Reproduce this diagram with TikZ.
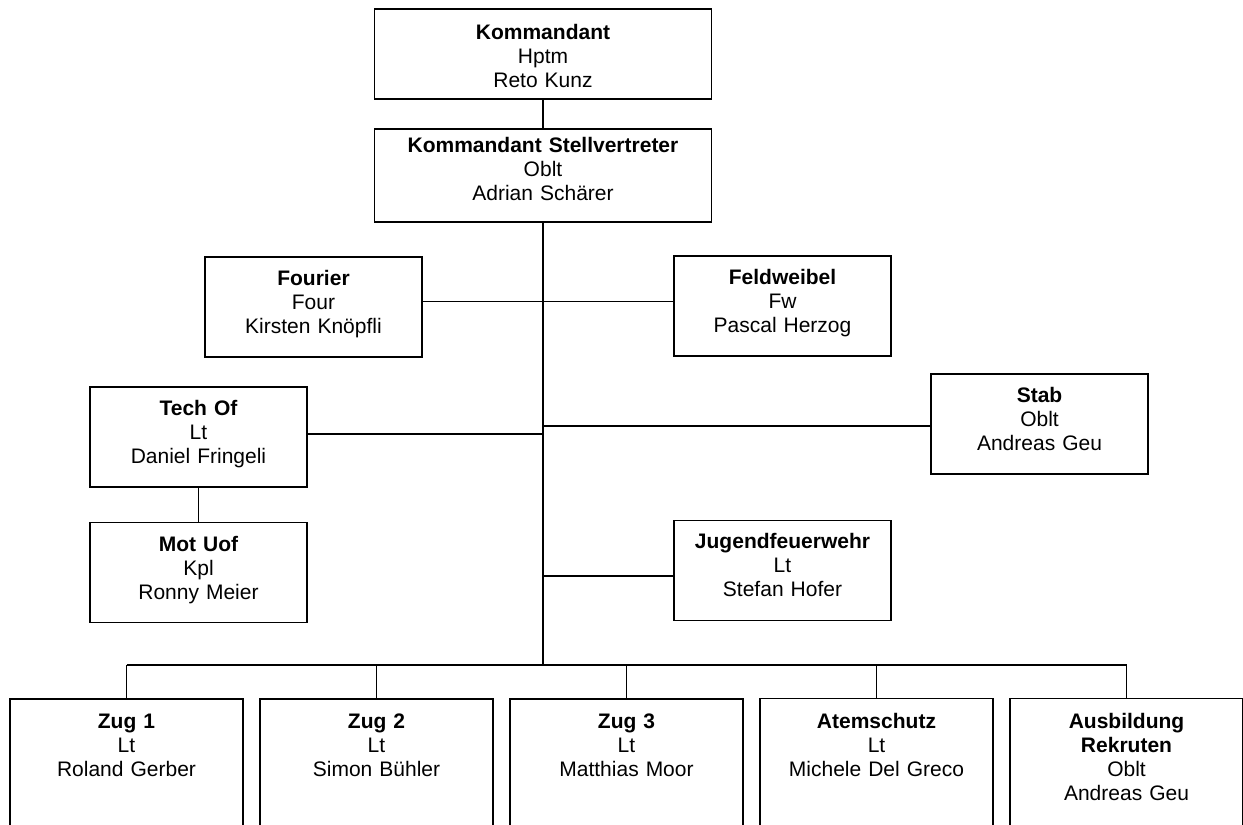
\documentclass[tikz,border=0pt]{standalone}
\usepackage{fontspec}
\setmainfont{Liberation Sans}
\usetikzlibrary{positioning}

\begin{document}
\begin{tikzpicture}[
  x=1pt, y=-1pt, line width=1.6pt,
  font=\fontsize{21}{24}\selectfont,
  base/.style={draw, align=center, inner sep=2pt},
  box/.style={base, text width=213pt, minimum height=100pt, text depth=58.3pt},
  wide/.style={base, text width=333pt},
  zug/.style={base, text width=229pt, inner ysep=15pt, text depth=150pt},
]
\useasboundingbox (0,0) rectangle (1243,825);
\clip (0,0) rectangle (1243,825);

% Leitung
\node[wide, minimum height=90pt, text depth=44.3pt] (kdt) at (543,54)
  {\textbf{Kommandant}\\Hptm\\Reto Kunz};
\node[wide, minimum height=93pt, text depth=61.3pt] (stv) at (543,175.5)
  {\textbf{Kommandant Stellvertreter}\\Oblt\\Adrian Schärer};
\draw (kdt.south) -- (stv.north);

\coordinate (split) at (543,665);
\draw (stv.south) -- (split);

% Stabsfunktionen
\node[box] (fourier) at (313.5,307)
  {\textbf{Fourier}\\Four\\Kirsten Knöpfli};
\node[box] (feldweibel) at (782.5,306)
  {\textbf{Feldweibel}\\Fw\\Pascal Herzog};
\draw ([yshift=5.5pt]fourier.east) -- ([yshift=5.5pt]fourier.east -| split);
\draw ([yshift=4.5pt]feldweibel.west) -- ([yshift=4.5pt]feldweibel.west -| split);

\node[box] (techof) at (198.5,437)
  {\textbf{Tech Of}\\Lt\\Daniel Fringeli};
\node[box, below=34pt of techof] (motuof)
  {\textbf{Mot Uof}\\Kpl\\Ronny Meier};
\draw (techof.south) -- (motuof.north);
\draw ([yshift=3pt]techof.east) -- ([yshift=3pt]techof.east -| split);

\node[box] (stab) at (1039.5,424)
  {\textbf{Stab}\\Oblt\\Andreas Geu};
\draw ([yshift=-2pt]stab.west) -- ([yshift=-2pt]stab.west -| split);

\node[box] (jugend) at (782.5,570.5)
  {\textbf{Jugendfeuerwehr}\\Lt\\Stefan Hofer};
\draw ([yshift=-5.5pt]jugend.west) -- ([yshift=-5.5pt]jugend.west -| split);

% Zuege
\node[zug, anchor=north] (zug1) at (126.5,698)
  {\textbf{Zug 1}\\Lt\\Roland Gerber};
\node[zug, right=15.4pt of zug1] (zug2)
  {\textbf{Zug 2}\\Lt\\Simon Bühler};
\node[zug, right=15.4pt of zug2] (zug3)
  {\textbf{Zug 3}\\Lt\\Matthias Moor};
\node[zug, right=15.4pt of zug3] (atem)
  {\textbf{Atemschutz}\\Lt\\Michele Del Greco};
\node[zug, right=15.4pt of atem] (ausb)
  {\textbf{Ausbildung}\\\textbf{Rekruten}\\Oblt\\Andreas Geu};

\draw (zug1.north |- split) -- (ausb.north |- split);
\foreach \z in {zug1,zug2,zug3,atem,ausb}{
  \draw (\z.north) -- (\z.north |- split);
}

\end{tikzpicture}
\end{document}
